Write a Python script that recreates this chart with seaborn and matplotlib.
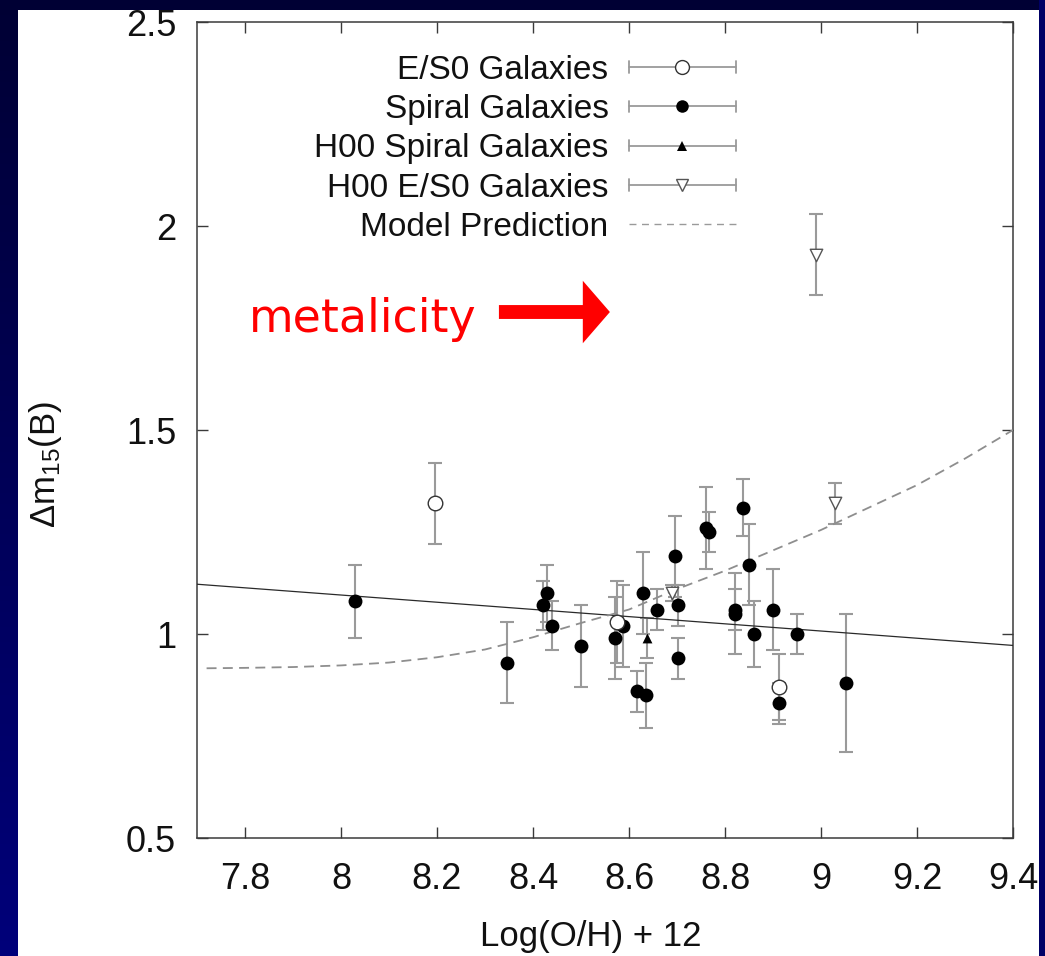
import numpy as np
import matplotlib
matplotlib.use("Agg")
import matplotlib.pyplot as plt
from matplotlib.patches import Rectangle
from matplotlib.lines import Line2D
from matplotlib.legend_handler import HandlerBase
from matplotlib.colors import LinearSegmentedColormap
import seaborn as sns

# ---- data -------------------------------------------------------------
spiral_x = [8.03, 8.345, 8.42, 8.43, 8.44, 8.50, 8.57, 8.587, 8.617, 8.63, 8.635, 8.658, 8.696,
            8.703, 8.703, 8.76, 8.767, 8.82, 8.82, 8.838, 8.851, 8.86, 8.90, 8.912, 8.95, 9.052]
spiral_y = [1.08, 0.93, 1.07, 1.10, 1.02, 0.97, 0.99, 1.02, 0.86, 1.10, 0.85, 1.06, 1.19,
            1.07, 0.94, 1.26, 1.25, 1.06, 1.05, 1.31, 1.17, 1.00, 1.06, 0.83, 1.00, 0.88]
spiral_err = [0.09, 0.10, 0.06, 0.07, 0.06, 0.10, 0.10, 0.10, 0.05, 0.10, 0.08, 0.05, 0.10,
              0.05, 0.05, 0.10, 0.05, 0.05, 0.10, 0.07, 0.10, 0.08, 0.10, 0.05, 0.05, 0.17]

es0_x = [8.196, 8.574, 8.912]
es0_y = [1.32, 1.03, 0.87]
es0_err = [0.10, 0.10, 0.08]

h00_spiral_x = [8.638]
h00_spiral_y = [0.99]
h00_spiral_err = [0.05]

h00_es0_x = [8.69, 8.99, 9.03]
h00_es0_y = [1.10, 1.93, 1.32]
h00_es0_err = [0.02, 0.10, 0.05]

fit_x = [7.7, 9.4]
fit_y = [1.122, 0.972]

model_x = [7.72, 7.8, 7.9, 8.0, 8.1, 8.2, 8.3, 8.4, 8.5, 8.6, 8.7, 8.8, 8.9, 9.0, 9.1, 9.2, 9.3, 9.4]
model_y = [0.916, 0.917, 0.919, 0.923, 0.930, 0.943, 0.962, 0.992, 1.027, 1.060, 1.110, 1.155,
           1.205, 1.255, 1.310, 1.365, 1.430, 1.500]

x_ticks = [7.8, 8.0, 8.2, 8.4, 8.6, 8.8, 9.0, 9.2, 9.4]
x_tick_labels = ["7.8", "8", "8.2", "8.4", "8.6", "8.8", "9", "9.2", "9.4"]
y_ticks = [0.5, 1.0, 1.5, 2.0, 2.5]
y_tick_labels = ["0.5", "1", "1.5", "2", "2.5"]

legend_labels = ["E/S0 Galaxies", "Spiral Galaxies", "H00 Spiral Galaxies",
                 "H00 E/S0 Galaxies", "Model Prediction"]

# ---- style ------------------------------------------------------------
sns.set_theme(style="ticks")
plt.rcParams["font.family"] = ["Liberation Sans", "DejaVu Sans"]
plt.rcParams["mathtext.default"] = "regular"

BAR_GREY = "#9a9a9a"
DASH_GREY = "#8e8e8e"
AX_COLOR = "#3a3a3a"

fig = plt.figure(figsize=(10.45, 9.56), dpi=100)

# slide background: navy gradient with a white panel
bg = fig.add_axes([0, 0, 1, 1], zorder=-10)
grad = np.linspace(0, 1, 256).reshape(-1, 1)
navy = LinearSegmentedColormap.from_list("navy", ["#000034", "#00007a"])
bg.imshow(grad, aspect="auto", cmap=navy, extent=[0, 1, 0, 1], origin="upper")
bg.add_patch(Rectangle((18 / 1045, 0), (1039 - 18) / 1045, (956 - 10) / 956,
                       transform=bg.transAxes, facecolor="white", edgecolor="none"))
bg.set_xlim(0, 1)
bg.set_ylim(0, 1)
bg.axis("off")

ax = fig.add_axes([197 / 1045, (956 - 838) / 956, 816 / 1045, 816 / 956])
ax.set_facecolor("white")

# error bars
err_kw = dict(fmt="none", ecolor=BAR_GREY, elinewidth=1.5, capsize=4.8, capthick=1.5, zorder=2)
ax.errorbar(spiral_x, spiral_y, yerr=spiral_err, **err_kw)
ax.errorbar(es0_x, es0_y, yerr=es0_err, **err_kw)
ax.errorbar(h00_spiral_x, h00_spiral_y, yerr=h00_spiral_err, **err_kw)
ax.errorbar(h00_es0_x, h00_es0_y, yerr=h00_es0_err, **err_kw)

# best fit and model curves
sns.lineplot(x=fit_x, y=fit_y, ax=ax, color="#2a2a2a", linewidth=0.9, zorder=3)
sns.lineplot(x=model_x, y=model_y, ax=ax, color=DASH_GREY, linewidth=1.3,
             linestyle=(0, (5.5, 3.5)), zorder=3)

# markers
sns.scatterplot(x=spiral_x, y=spiral_y, ax=ax, marker="o", s=100, color="black",
                edgecolor="black", linewidth=0, zorder=5, legend=False)
sns.scatterplot(x=es0_x, y=es0_y, ax=ax, marker="o", s=110, color="white",
                edgecolor="#333333", linewidth=1.0, zorder=5, legend=False)
sns.scatterplot(x=h00_spiral_x, y=h00_spiral_y, ax=ax, marker="^", s=50, color="black",
                edgecolor="black", linewidth=0, zorder=5, legend=False)
sns.scatterplot(x=h00_es0_x, y=h00_es0_y, ax=ax, marker="v", s=80, color="white",
                edgecolor="#555555", linewidth=1.0, zorder=5, legend=False)

# axes
ax.set_xlim(7.7, 9.4)
ax.set_ylim(0.5, 2.5)
ax.set_xticks(x_ticks)
ax.set_xticklabels(x_tick_labels)
ax.set_yticks(y_ticks)
ax.set_yticklabels(y_tick_labels)
ax.tick_params(axis="both", direction="in", length=8, width=1.0, color=AX_COLOR,
               top=True, right=True, labelsize=26, labelcolor="#111111")
ax.tick_params(axis="x", pad=17)
ax.tick_params(axis="y", pad=15)
for sp in ax.spines.values():
    sp.set_visible(True)
    sp.set_color(AX_COLOR)
    sp.set_linewidth(1.1)

ax.set_xlabel("Log(O/H) + 12", fontsize=25, color="#111111")
ax.xaxis.set_label_coords(0.483, -0.101)
ax.set_ylabel("$\\mathregular{Δm_{15}(B)}$", fontsize=25, color="#111111")
ax.yaxis.label.set_va("center")
ax.yaxis.set_label_coords(-0.186, 0.457)


# legend with gnuplot-like capped error-bar keys
class CappedBarKey(HandlerBase):
    def create_artists(self, legend, orig_handle, xdescent, ydescent, width, height,
                       fontsize, trans):
        y = height / 2.0 - ydescent
        x0, x1 = -xdescent, width - xdescent
        cap = 0.17 * fontsize
        arts = [
            Line2D([x0, x1], [y, y], color=BAR_GREY, lw=1.3),
            Line2D([x0, x0], [y - cap, y + cap], color=BAR_GREY, lw=1.3),
            Line2D([x1, x1], [y - cap, y + cap], color=BAR_GREY, lw=1.3),
            Line2D([(x0 + x1) / 2.0], [y], linestyle="none",
                   marker=orig_handle.get_marker(),
                   markersize=orig_handle.get_markersize(),
                   markerfacecolor=orig_handle.get_markerfacecolor(),
                   markeredgecolor=orig_handle.get_markeredgecolor(),
                   markeredgewidth=orig_handle.get_markeredgewidth()),
        ]
        for a in arts:
            a.set_transform(trans)
        return arts


key_es0 = Line2D([], [], marker="o", markersize=10, markerfacecolor="white",
                 markeredgecolor="#333333", markeredgewidth=1.0)
key_sp = Line2D([], [], marker="o", markersize=9, markerfacecolor="black",
                markeredgecolor="black", markeredgewidth=0)
key_h00sp = Line2D([], [], marker="^", markersize=6.5, markerfacecolor="black",
                   markeredgecolor="black", markeredgewidth=0)
key_h00es0 = Line2D([], [], marker="v", markersize=9, markerfacecolor="white",
                    markeredgecolor="#555555", markeredgewidth=1.0)
key_model = Line2D([], [], color="#9a9a9a", lw=1.0, linestyle=(0, (5, 4)))

handler = CappedBarKey()
leg = ax.legend([key_es0, key_sp, key_h00sp, key_h00es0, key_model], legend_labels,
                handler_map={key_es0: handler, key_sp: handler, key_h00sp: handler,
                             key_h00es0: handler},
                loc="upper right", bbox_to_anchor=(0.660, 0.960), frameon=False,
                markerfirst=False, fontsize=24, handlelength=3.21, handletextpad=0.6,
                labelspacing=0.25, borderpad=0, borderaxespad=0)
for t in leg.get_texts():
    t.set_color("#111111")

# annotation
ax.text(0.0637, 0.620, "metalicity", transform=ax.transAxes, color="#ff0000",
        fontsize=33, family="DejaVu Sans", va="baseline", ha="left", zorder=6)
ax.annotate("", xy=(0.506, 0.6446), xytext=(0.370, 0.6446), xycoords="axes fraction",
            arrowprops=dict(arrowstyle="simple,head_length=19.5,head_width=45,tail_width=10",
                            mutation_scale=1, color="#ff0000", lw=0, shrinkA=0, shrinkB=0),
            zorder=6)

# right edge of the slide covers the overflow of the last tick label
fig.add_artist(Rectangle((1039 / 1045, 0), 6 / 1045, 1, transform=fig.transFigure,
                         facecolor="#000066", edgecolor="none", zorder=10))

fig.savefig("out.png", dpi=100)
